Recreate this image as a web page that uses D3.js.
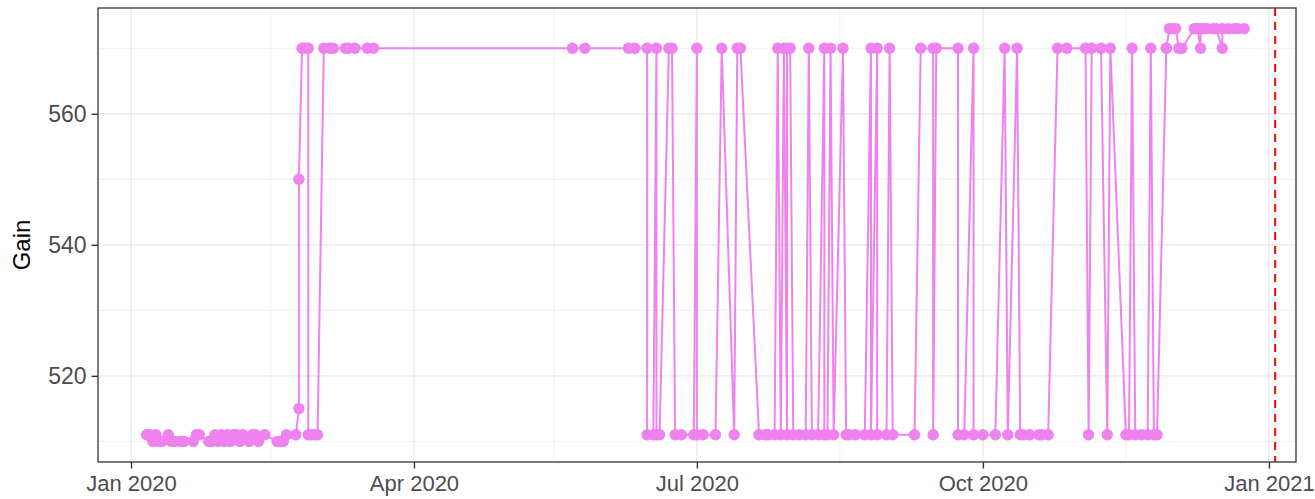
<!DOCTYPE html>
<html><head><meta charset="utf-8">
<script src="https://cdn.jsdelivr.net/npm/d3@7"></script>
<style>body{margin:0;background:#fff}</style>
</head><body><svg id="c" width="1315" height="499"></svg>
<script>
const dates = [
"2020-01-06","2020-01-07","2020-01-08","2020-01-09","2020-01-10","2020-01-11","2020-01-13","2020-01-14","2020-01-15","2020-01-17",
"2020-01-18","2020-01-21","2020-01-22","2020-01-23","2020-01-26","2020-01-27","2020-01-28","2020-01-29","2020-01-30","2020-01-31",
"2020-02-01","2020-02-02","2020-02-03","2020-02-04","2020-02-05","2020-02-06","2020-02-08","2020-02-09","2020-02-10","2020-02-11",
"2020-02-13","2020-02-17","2020-02-18","2020-02-19","2020-02-20","2020-02-23","2020-02-24","2020-02-24","2020-02-25","2020-02-26",
"2020-02-27","2020-02-27","2020-02-28","2020-02-29","2020-03-01","2020-03-03","2020-03-05","2020-03-06","2020-03-10","2020-03-11",
"2020-03-13","2020-03-17","2020-03-19",
"2020-05-22","2020-05-26","2020-06-09","2020-06-11","2020-06-15","2020-06-15","2020-06-17","2020-06-18","2020-06-18","2020-06-19",
"2020-06-22","2020-06-23","2020-06-24","2020-06-26","2020-06-30","2020-07-01","2020-07-01","2020-07-03","2020-07-07","2020-07-09",
"2020-07-13","2020-07-14","2020-07-15","2020-07-21","2020-07-23","2020-07-24","2020-07-26","2020-07-27","2020-07-28","2020-07-29",
"2020-07-30","2020-07-30","2020-07-31","2020-08-01","2020-08-03","2020-08-05","2020-08-06","2020-08-07","2020-08-09","2020-08-11",
"2020-08-11","2020-08-12","2020-08-13","2020-08-14","2020-08-17","2020-08-18","2020-08-19","2020-08-21","2020-08-24","2020-08-26",
"2020-08-26","2020-08-28","2020-08-28","2020-08-31","2020-09-01","2020-09-02","2020-09-09","2020-09-11","2020-09-15","2020-09-15",
"2020-09-16","2020-09-23","2020-09-23","2020-09-25","2020-09-28","2020-09-28","2020-10-01","2020-10-05","2020-10-08","2020-10-09",
"2020-10-12","2020-10-13","2020-10-14","2020-10-16","2020-10-19","2020-10-20","2020-10-22","2020-10-25","2020-10-28","2020-11-03",
"2020-11-04","2020-11-05","2020-11-08","2020-11-10","2020-11-11","2020-11-16","2020-11-17","2020-11-18","2020-11-19","2020-11-21",
"2020-11-23","2020-11-24","2020-11-25","2020-11-26","2020-11-29","2020-11-29","2020-11-30","2020-12-01","2020-12-02","2020-12-03",
"2020-12-04","2020-12-08","2020-12-09","2020-12-10","2020-12-10","2020-12-11","2020-12-12","2020-12-14","2020-12-15","2020-12-17",
"2020-12-17","2020-12-19","2020-12-21","2020-12-22","2020-12-24"
];
const gains = [
511,511,510,511,510,510,511,510,510,510,
510,510,511,511,510,510,511,510,511,510,
511,510,511,511,510,511,510,511,511,510,
511,510,510,510,511,511,515,550,570,570,
570,511,511,511,511,570,570,570,570,570,
570,570,570,
570,570,570,570,570,511,511,570,511,511,
570,570,511,511,511,570,511,511,511,570,
511,570,570,511,511,511,511,570,511,570,
511,570,570,511,511,511,570,511,511,570,
511,511,570,511,570,511,511,511,511,570,
511,570,511,511,570,511,511,570,570,511,
570,570,511,511,570,511,511,511,570,511,
570,511,511,511,511,511,511,570,570,570,
511,570,570,511,570,511,511,570,511,511,
511,570,511,511,570,570,573,573,573,570,
570,573,573,570,573,573,573,573,573,570,
573,573,573,573,573
];
const xTickDates = ["2020-01-01","2020-04-01","2020-07-01","2020-10-01","2021-01-01"];
const xTickLabels = ["Jan 2020","Apr 2020","Jul 2020","Oct 2020","Jan 2021"];
const xMinorDates = ["2020-02-15","2020-05-16","2020-08-16","2020-11-16"];
const yTicks = [520, 540, 560];
const yMinor = [510, 530, 550, 570];
const xLimits = ["2019-12-21T09:00:00Z","2021-01-09T17:00:00Z"];
const yLimits = [506.85, 576.15];
const refLineDate = "2021-01-03";
const yTitle = "Gain";

const svg = d3.select("#c");
const L = 98, R = 1296, T = 8, B = 462;
const x = d3.scaleUtc().domain(xLimits.map(d => new Date(d))).range([L, R]);
const y = d3.scaleLinear().domain(yLimits).range([B, T]);
const data = dates.map((d, i) => ({date: new Date(d), v: gains[i]}));

// grid
const g = svg.append("g");
g.selectAll(".ymin").data(yMinor).join("line")
  .attr("x1", L).attr("x2", R).attr("y1", d => y(d)).attr("y2", d => y(d))
  .attr("stroke", "#EBEBEB").attr("stroke-width", 0.7);
g.selectAll(".xmin").data(xMinorDates).join("line")
  .attr("y1", T).attr("y2", B).attr("x1", d => x(new Date(d))).attr("x2", d => x(new Date(d)))
  .attr("stroke", "#EBEBEB").attr("stroke-width", 0.7);
g.selectAll(".ymaj").data(yTicks).join("line")
  .attr("x1", L).attr("x2", R).attr("y1", d => y(d)).attr("y2", d => y(d))
  .attr("stroke", "#EBEBEB").attr("stroke-width", 1.4);
g.selectAll(".xmaj").data(xTickDates).join("line")
  .attr("y1", T).attr("y2", B).attr("x1", d => x(new Date(d))).attr("x2", d => x(new Date(d)))
  .attr("stroke", "#EBEBEB").attr("stroke-width", 1.4);

// line + points
const line = d3.line().x(d => x(d.date)).y(d => y(d.v));
svg.append("path").datum(data).attr("d", line)
  .attr("fill", "none").attr("stroke", "violet").attr("stroke-width", 2);
svg.append("g").selectAll("circle").data(data).join("circle")
  .attr("cx", d => x(d.date)).attr("cy", d => y(d.v)).attr("r", 5.7)
  .attr("fill", "violet");

// reference line
svg.append("line")
  .attr("x1", x(new Date(refLineDate))).attr("x2", x(new Date(refLineDate)))
  .attr("y1", T).attr("y2", B)
  .attr("stroke", "red").attr("stroke-width", 2).attr("stroke-dasharray", "8,6");

// border
svg.append("rect").attr("x", L).attr("y", T).attr("width", R - L).attr("height", B - T)
  .attr("fill", "none").attr("stroke", "#333333").attr("stroke-width", 1.3);

// axes
const xAxis = d3.axisBottom(x).tickValues(xTickDates.map(d => new Date(d)))
  .tickFormat((d, i) => xTickLabels[i]).tickSize(6.5).tickPadding(7);
const ax = svg.append("g").attr("transform", `translate(0,${B})`).call(xAxis);
const yAxis = d3.axisLeft(y).tickValues(yTicks).tickSize(6.5).tickPadding(5);
const ay = svg.append("g").attr("transform", `translate(${L},0)`).call(yAxis);
[ax, ay].forEach(a => {
  a.select(".domain").remove();
  a.selectAll(".tick line").attr("stroke", "#333333").attr("stroke-width", 1.4);
  a.selectAll(".tick text").attr("fill", "#4D4D4D").style("font-family", "Liberation Sans, Arial, sans-serif");
});
ax.selectAll(".tick text").style("font-size", "22px");
ay.selectAll(".tick text").style("font-size", "23px");

svg.append("text").attr("transform", `translate(30,245) rotate(-90)`)
  .attr("text-anchor", "middle").style("font-family", "Liberation Sans, Arial, sans-serif")
  .style("font-size", "24px").attr("fill", "#000").text(yTitle);
</script>
</body></html>
